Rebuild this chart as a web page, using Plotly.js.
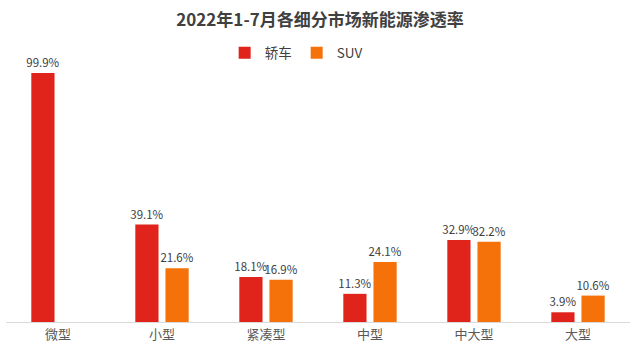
<!DOCTYPE html>
<html><head><meta charset="utf-8">
<script src="https://cdn.plot.ly/plotly-3.0.1.min.js"></script>
<style>html,body{margin:0;padding:0;background:#fff}#chart{width:640px;height:360px}</style>
</head><body><div id="chart"></div>
<script>
const categories = ["微型","小型","紧凑型","中型","中大型","大型"];
const sedanValues = [99.9, 39.1, 18.1, 11.3, 32.9, 3.9];
const suvValues = [null, 21.6, 16.9, 24.1, 32.2, 10.6];
const seriesNames = ["轿车","SUV"];
const fontFam = '"Noto Sans CJK SC", "Noto Sans", sans-serif';
function lbl(v){return v.map(x => x==null ? "" : x.toFixed(1)+"%");}
const traces = [
  {type:"bar", name:seriesNames[0], x:categories, y:sedanValues, marker:{color:"#e0231b"},
   text:lbl(sedanValues), textposition:"outside", cliponaxis:false, constraintext:"none",
   textfont:{size:11.5,color:"#404040",family:fontFam}, hoverinfo:"none"},
  {type:"bar", name:seriesNames[1], x:categories, y:suvValues, marker:{color:"#f5720a"},
   text:lbl(suvValues), textposition:"outside", cliponaxis:false, constraintext:"none",
   textfont:{size:11.5,color:"#404040",family:fontFam}, hoverinfo:"none"}
];
const layout = {
  width:640, height:360,
  margin:{l:6,r:10,t:60,b:38},
  paper_bgcolor:"#fff", plot_bgcolor:"#fff",
  font:{family:fontFam,color:"#404040"},
  title:{text:"<b>2022年1-7月各细分市场新能源渗透率</b>", x:0.5, xanchor:"center", y:0.945, yanchor:"middle",
         font:{size:17,color:"#404040",family:fontFam}},
  barmode:"group", bargap:0.42, bargroupgap:0.23,
  showlegend:true,
  legend:{orientation:"h", x:0.465, xanchor:"center", y:1.027, yanchor:"middle",
          font:{size:13.5,color:"#404040",family:fontFam}, itemwidth:30, traceorder:"normal"},
  xaxis:{showline:true, linecolor:"#d9d9d9", linewidth:1, ticks:"", showgrid:false,
         tickfont:{size:13,color:"#595959",family:fontFam}},
  yaxis:{range:[0,105.1], visible:false, showgrid:false, zeroline:false}
};
Plotly.newPlot("chart", traces, layout, {displayModeBar:false, staticPlot:true});
</script></body></html>
